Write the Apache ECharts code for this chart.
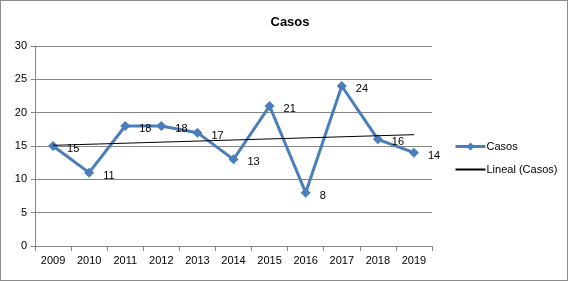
<!DOCTYPE html>
<html><head><meta charset="utf-8">
<script src="https://cdn.jsdelivr.net/npm/echarts@6/dist/echarts.min.js"></script>
<style>
html,body{margin:0;padding:0;background:#fff;}
#frame{position:absolute;left:0;top:0;width:566px;height:279px;border:1px solid #8c8c8c;}
#c{position:absolute;left:0;top:0;width:568px;height:281px;}
</style></head><body>
<div id="frame"></div>
<div id="c"></div>
<script>
const categories = ['2009','2010','2011','2012','2013','2014','2015','2016','2017','2018','2019'];
const casos = [15, 11, 18, 18, 17, 13, 21, 8, 24, 16, 14];
// Linear trend endpoints (first and last category)
const trendStart = 15.1;
const trendEnd = 16.7;
const trend = categories.map((c, i) => i === 0 ? trendStart : (i === categories.length - 1 ? trendEnd : null));

const font = 'Liberation Sans';
const chart = echarts.init(document.getElementById('c'), null, {renderer: 'canvas'});
chart.setOption({
  animation: false,
  title: {text: 'Casos', left: 285, top: 11, textAlign: 'center',
    textStyle: {fontFamily: font, fontSize: 13, fontWeight: 'bold', color: '#000'}},
  grid: {left: 35, right: 136, top: 46, bottom: 35},
  legend: {
    orient: 'vertical', left: 449, top: 136, itemGap: 12, itemWidth: 30, itemHeight: 10,
    textStyle: {fontFamily: font, fontSize: 11, color: '#000', padding: [0,0,0,-4]},
    data: [
      {name: 'Casos', lineStyle: {width: 3}},
      {name: 'Lineal (Casos)', itemStyle: {opacity: 0}}
    ]
  },
  xAxis: {
    type: 'category', data: categories, boundaryGap: true,
    axisLine: {lineStyle: {color: '#868686', width: 1}},
    axisTick: {show: true, alignWithLabel: false, length: 5, lineStyle: {color: '#868686'}},
    axisLabel: {fontFamily: font, fontSize: 11, color: '#000', margin: 9}
  },
  yAxis: {
    type: 'value', min: 0, max: 30, interval: 5,
    axisLine: {show: true, lineStyle: {color: '#868686', width: 1}},
    axisTick: {show: true, length: 4, inside: false, lineStyle: {color: '#868686'}},
    axisLabel: {fontFamily: font, fontSize: 11, color: '#000', margin: 8},
    splitLine: {lineStyle: {color: '#868686', width: 1}}
  },
  series: [
    {
      name: 'Casos', type: 'line', data: casos,
      symbol: 'diamond', symbolSize: 10,
      lineStyle: {color: '#4a7ebb', width: 3},
      itemStyle: {color: '#4a7ebb'},
      label: {show: true, position: 'right', distance: 9, fontFamily: font, fontSize: 11, color: '#000', offset: [0, 3]},
      z: 2
    },
    {
      name: 'Lineal (Casos)', type: 'line', data: trend, connectNulls: true,
      symbol: 'none', lineStyle: {color: '#000', width: 1}, itemStyle: {color: '#000'},
      z: 3
    }
  ]
});
</script>
</body></html>
